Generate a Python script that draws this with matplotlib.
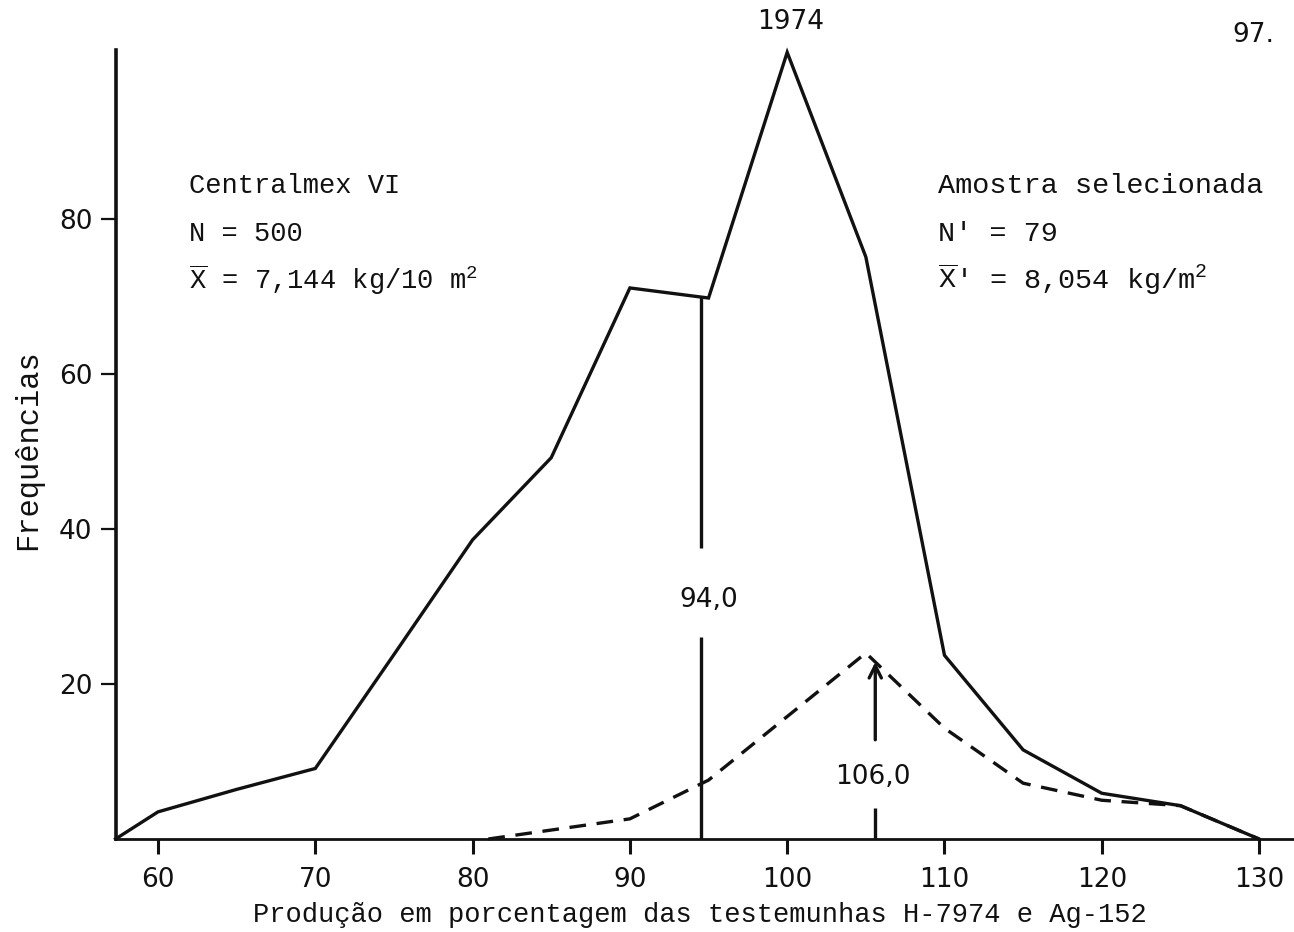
import matplotlib
matplotlib.use("Agg")
import matplotlib.pyplot as plt
import numpy as np

# ---------------- data ----------------
x_all = [57.3, 60, 65, 70, 75, 80, 85, 90, 95, 100, 105, 110, 115, 120, 125, 130]
freq_all = [0, 3.5, 6.4, 9.1, 23.8, 38.6, 49.2, 71.1, 69.8, 101.5, 75.1, 23.7, 11.5, 5.9, 4.3, 0]

x_sel = [81, 90, 95, 100, 105, 110, 115, 120, 125, 130]
freq_sel = [0, 2.6, 7.6, 15.8, 24.0, 14.3, 7.2, 5.0, 4.3, 0]

mean_all = 94.5
mean_all_label = "94,0"
mean_sel = 105.6
mean_sel_label = "106,0"

x_ticks = [60, 70, 80, 90, 100, 110, 120, 130]
x_ticklabels = ["60", "70", "80", "90", "100", "110", "120", "130"]
y_ticks = [20, 40, 60, 80]
y_ticklabels = ["20", "40", "60", "80"]

left_block = ["Centralmex VI", "N = 500", r"$\overline{\mathrm{X}}$ = 7,144 kg/10 m$^{2}$"]
right_block = ["Amostra selecionada", "N' = 79", r"$\overline{\mathrm{X}}$' = 8,054 kg/m$^{2}$"]
top_label = "1974"
page_label = "97."
xlabel = "Produção em porcentagem das testemunhas H-7974 e Ag-152"
ylabel = "Frequências"

# ---------------- style ----------------
plt.rcParams["mathtext.fontset"] = "custom"
plt.rcParams["mathtext.rm"] = "Liberation Mono"
plt.rcParams["mathtext.it"] = "Liberation Mono"
plt.rcParams["mathtext.bf"] = "Liberation Mono"

MONO = ["Liberation Mono", "DejaVu Sans Mono"]
SANS = ["DejaVu Sans"]
INK = "#111111"
NUM_SIZE = 19
NUM_WEIGHT = "normal"

W, H = 1294, 932
fig = plt.figure(figsize=(W / 100, H / 100), dpi=100)
fig.patch.set_facecolor("white")
ax = fig.add_axes([116 / W, (H - 839) / H, (W - 116) / W, (839 - 50) / H])
ax.set_facecolor("white")
ax.set_xlim(57.33, 132.22)
ax.set_ylim(0, 101.8)

for s in ["top", "right"]:
    ax.spines[s].set_visible(False)
ax.spines["left"].set_linewidth(2.6)
ax.spines["bottom"].set_linewidth(2.0)
ax.spines["left"].set_color(INK)
ax.spines["bottom"].set_color(INK)

ax.set_xticks(x_ticks)
ax.set_xticklabels(x_ticklabels, fontfamily=SANS, fontsize=NUM_SIZE, fontweight=NUM_WEIGHT)
ax.set_yticks(y_ticks)
ax.set_yticklabels(y_ticklabels, fontfamily=SANS, fontsize=NUM_SIZE, fontweight=NUM_WEIGHT)
ax.tick_params(axis="x", direction="out", length=11, width=2.2, pad=9, colors=INK)
ax.tick_params(axis="y", direction="out", length=11, width=1.6, pad=6, colors=INK)

# ---------------- curves ----------------
ax.plot(x_all, freq_all, color=INK, lw=2.4, solid_joinstyle="miter", clip_on=False, zorder=3)
ax.plot(x_sel, freq_sel, color=INK, lw=2.4, linestyle=(0, (5, 3.2)), clip_on=False, zorder=3)

# mean of the whole population (vertical line with gap for label)
y_top = float(np.interp(mean_all, x_all, freq_all))
ax.plot([mean_all, mean_all], [y_top, 37.5], color=INK, lw=2.4, solid_capstyle="butt")
ax.plot([mean_all, mean_all], [26.1, 0], color=INK, lw=2.4, solid_capstyle="butt")
ax.text(mean_all + 0.5, 30.8, mean_all_label, ha="center", va="center",
        fontfamily=SANS, fontsize=NUM_SIZE, fontweight=NUM_WEIGHT, color=INK)

# mean of the selected sample (arrow)
y_tip = float(np.interp(mean_sel, x_sel, freq_sel))
ax.annotate("", xy=(mean_sel, y_tip), xytext=(mean_sel, 12.8),
            arrowprops=dict(arrowstyle="->", lw=2.4, color=INK, mutation_scale=22,
                            shrinkA=0, shrinkB=0))
ax.plot([mean_sel, mean_sel], [4.0, 0], color=INK, lw=2.4, solid_capstyle="butt")
ax.text(mean_sel - 0.15, 8.0, mean_sel_label, ha="center", va="center",
        fontfamily=SANS, fontsize=NUM_SIZE, fontweight=NUM_WEIGHT, color=INK)

# ---------------- annotations ----------------
baselines = [83.4, 77.1, 71.0]
for txt, yb in zip(left_block, baselines):
    ax.text(62.0, yb, txt, ha="left", va="baseline", fontfamily=MONO, fontsize=19.5,
            color=INK, clip_on=False)
for txt, yb in zip(right_block, baselines):
    ax.text(109.6, yb, txt, ha="left", va="baseline", fontfamily=MONO, fontsize=20.5,
            color=INK, clip_on=False)

ax.text(100.2, 105.4, top_label, ha="center", va="center", fontfamily=SANS,
        fontsize=NUM_SIZE, fontweight=NUM_WEIGHT, color=INK, clip_on=False)
ax.text(128.3, 103.7, page_label, ha="left", va="center", fontfamily=SANS,
        fontsize=NUM_SIZE, fontweight=NUM_WEIGHT, color=INK, clip_on=False)

ax.set_xlabel(xlabel, fontfamily=MONO, fontsize=19.5, color=INK)
ax.xaxis.set_label_coords((700 - 116) / (W - 116), -(915 - 839) / (839 - 50))
ax.set_ylabel(ylabel, fontfamily=MONO, fontsize=22, color=INK)
ax.yaxis.set_label_coords(-(116 - 28) / (W - 116), (839 - 450) / (839 - 50))
ax.xaxis.label.set_va("center")
ax.yaxis.label.set_va("center")

fig.savefig("out.png", dpi=100, facecolor="white")
